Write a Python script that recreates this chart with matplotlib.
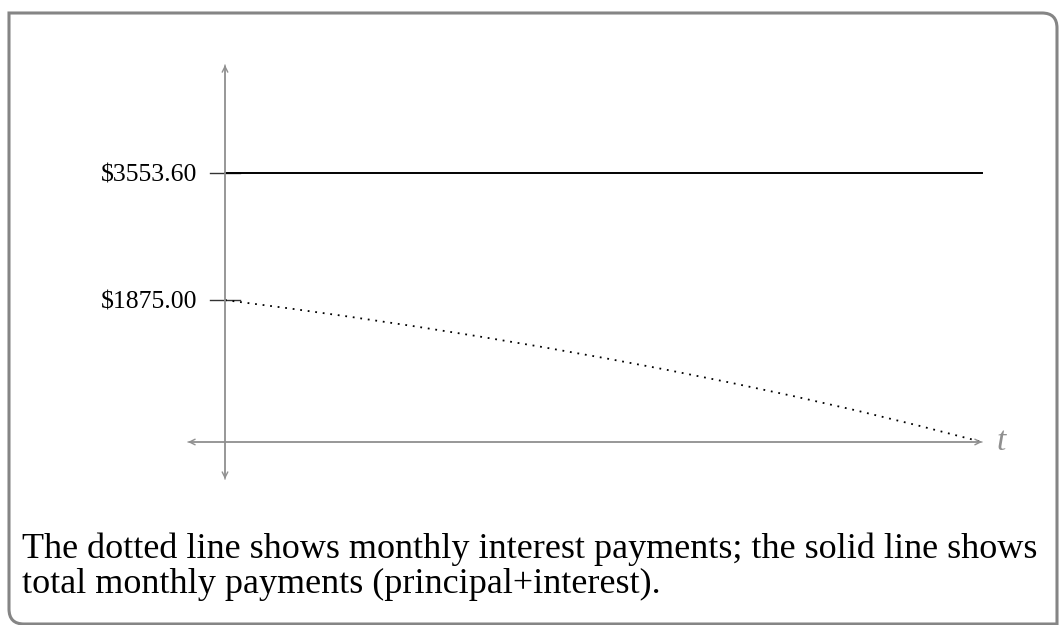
import numpy as np
import matplotlib.pyplot as plt
from matplotlib.path import Path
from matplotlib.patches import PathPatch

plt.rcParams['font.family'] = ['Liberation Serif', 'DejaVu Serif']

# monthly payment schedule (months, dollars)
months = [0, 30, 60, 90, 120, 150, 180, 210, 240, 270, 300, 330, 360]
interest = [1875, 1767, 1652, 1529, 1398, 1259, 1111, 954, 786, 608, 418, 215, 0]
total_payment = 3553.60
tick_values = [3553.60, 1875.00]
tick_labels = [r"\$3553.60", r"\$1875.00"]
caption_lines = ["The dotted line shows monthly interest payments; the solid line shows",
                 "total monthly payments (principal+interest)."]

W, H = 1060, 625
fig = plt.figure(figsize=(W / 100, H / 100), dpi=100)

# background layer in pixel coordinates for the box and caption
bg = fig.add_axes([0, 0, 1, 1])
bg.set_xlim(0, W)
bg.set_ylim(H, 0)
bg.axis('off')

r = 15
x0, y0, x1, y1 = 9, 13, 1057, 624
verts = [(x0, y0), (x1 - r, y0), (x1, y0), (x1, y0 + r),
         (x1, y1), (x0 + r, y1), (x0, y1), (x0, y1 - r), (x0, y0)]
codes = [Path.MOVETO, Path.LINETO, Path.CURVE3, Path.CURVE3,
         Path.LINETO, Path.LINETO, Path.CURVE3, Path.CURVE3, Path.CLOSEPOLY]
bg.add_patch(PathPatch(Path(verts, codes), facecolor='white', joinstyle='miter',
                       edgecolor='#858585', lw=2.2, clip_on=False))

for i, line in enumerate(caption_lines):
    bg.text(22, 558 + 35 * i, line, fontsize=26, va='baseline', ha='left',
            color='black')

# chart axes: x spans 225..982 px, y spans 442..173 px
ax = fig.add_axes([225 / W, (H - 442) / H, 757 / W, 269 / H])
ax.set_xlim(0, 360)
ax.set_ylim(0, total_payment)
ax.axis('off')

axis_col = '#8f8f8f'
arrow = dict(arrowstyle='->', color=axis_col, lw=1.0, shrinkA=0, shrinkB=0,
             mutation_scale=10)
ax.annotate('', xy=(-17.6, 0), xytext=(360, 0), arrowprops=arrow, annotation_clip=False)
ax.annotate('', xy=(360, 0), xytext=(-17.6, 0), arrowprops=arrow, annotation_clip=False)
ax.annotate('', xy=(0, 4980), xytext=(0, -490), arrowprops=arrow, annotation_clip=False)
ax.annotate('', xy=(0, -490), xytext=(0, 4980), arrowprops=arrow, annotation_clip=False)
ax.text(367, 0, 't', fontsize=24, style='italic', color=axis_col,
        ha='left', va='center', clip_on=False)

for v, lab in zip(tick_values, tick_labels):
    ax.plot([-7.1, 7.1], [v, v], color='#333333', lw=1.0, clip_on=False)
    ax.annotate(lab, xy=(-7.1, v), xytext=(-9, -5.8), textcoords='offset points',
                fontsize=18.5, ha='right', va='baseline', annotation_clip=False)

ax.plot([0, 360], [total_payment, total_payment], color='black', lw=1.4,
        clip_on=False)
ax.plot(months, interest, color='black', lw=1.3, linestyle=(0, (1, 3.2)),
        clip_on=False)

fig.savefig('out.png', dpi=100)
